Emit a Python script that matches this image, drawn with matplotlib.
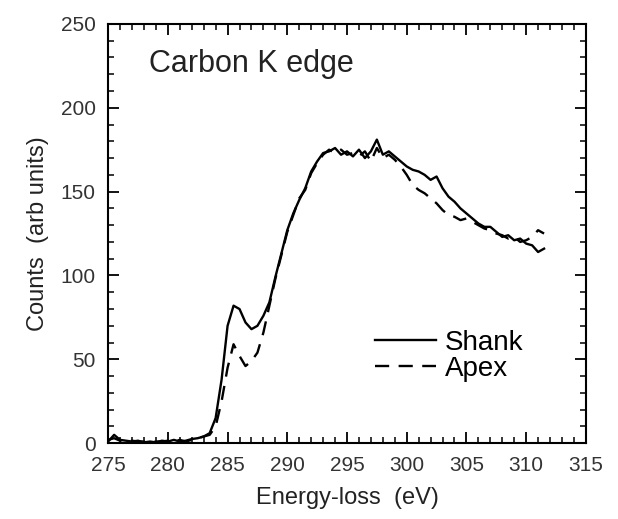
import numpy as np
import matplotlib
matplotlib.use("Agg")
import matplotlib.pyplot as plt
from matplotlib.ticker import MultipleLocator

plt.rcParams['font.family'] = ['Liberation Sans', 'DejaVu Sans']

# energy grid (eV), 0.5 eV steps
energy = np.arange(275.0, 311.51, 0.5)

shank = [1, 5, 2, 1.5, 1, 1.5, 0.5, 1, 0.5, 1.5,
         1, 2, 1, 1.5, 2.5, 3, 4, 6, 15, 38,
         70, 82, 80, 72, 68, 70, 76, 84, 99, 113,
         127, 137, 145, 152, 162, 168, 173, 174, 176, 172,
         174, 171, 175, 170, 174, 181, 172, 174, 171, 168,
         165, 163, 162, 160, 157, 159, 152, 147, 144, 140,
         137, 134, 131, 129, 129, 126, 123, 124, 121, 122,
         119, 118, 114, 116]

apex = [2, 3, 1.5, 1, 1.5, 1, 1, 0.5, 1, 1,
        1.5, 1, 2, 1, 2, 3, 4, 5, 10, 25,
        45, 59, 52, 46, 49, 54, 66, 82, 98, 112,
        126, 136, 146, 151, 161, 167, 172, 175, 173, 175,
        172, 173, 171, 174, 168, 176, 170, 172, 169, 165,
        160, 154, 151, 149, 146, 143, 139, 136, 135, 133,
        134, 132, 130, 128, 127, 125, 124, 122, 123, 120,
        121, 123, 127, 125]

fig = plt.figure(figsize=(6.18, 5.19), dpi=100)
ax = fig.add_axes([0.175, 0.146, 0.773, 0.808])

ax.plot(energy, shank, color='black', lw=1.7, ls='-', label='Shank')
ax.plot(energy, apex, color='black', lw=1.7, ls=(0, (6, 4)), label='Apex')

ax.set_xlim(275, 315)
ax.set_ylim(0, 250)
ax.xaxis.set_major_locator(MultipleLocator(5))
ax.xaxis.set_minor_locator(MultipleLocator(1))
ax.yaxis.set_major_locator(MultipleLocator(50))
ax.yaxis.set_minor_locator(MultipleLocator(10))
ax.tick_params(which='both', direction='in', top=True, right=True,
               labelsize=15, labelcolor='#333333', pad=9)
ax.tick_params(which='major', length=8, width=1.3)
ax.tick_params(which='minor', length=4.5, width=1.1)
for s in ax.spines.values():
    s.set_linewidth(1.5)

ax.set_xlabel('Energy-loss  (eV)', fontsize=17, color='#222222', labelpad=9)
ax.set_ylabel('Counts  (arb units)', fontsize=17, color='#222222', labelpad=8)

ax.text(0.086, 0.905, 'Carbon K edge', transform=ax.transAxes,
        fontsize=22, color='#222222', va='center')

ax.legend(loc='center left', bbox_to_anchor=(0.559, 0.209), frameon=False,
          fontsize=20, handlelength=2.2, handletextpad=0.3, labelspacing=0.0,
          borderpad=0, borderaxespad=0)

fig.savefig('out.png', dpi=100)
